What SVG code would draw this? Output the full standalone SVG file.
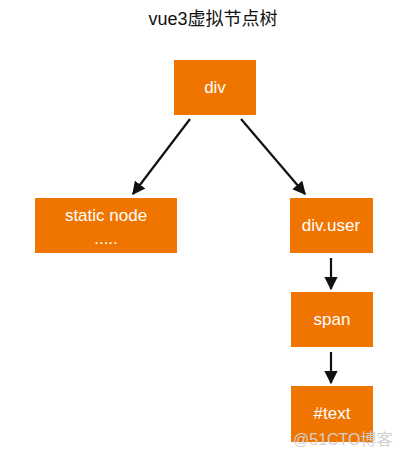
<svg xmlns="http://www.w3.org/2000/svg" width="402" height="463" viewBox="0 0 402 463">
<style>
.box{fill:#F07400;}
.lbl{font-family:"Liberation Sans",Arial,sans-serif;font-size:17px;fill:#ffffff;text-anchor:middle;}
.title{font-family:"Liberation Sans","Noto Sans CJK SC",sans-serif;font-size:18px;fill:#111;text-anchor:middle;}
.edge{stroke:#111;stroke-width:2.2;fill:none;marker-end:url(#ah);}
.wm{font-family:"Liberation Sans","Noto Sans CJK SC",sans-serif;font-size:16px;fill:#d0d0d0;}
</style>
<defs>
<marker id="ah" viewBox="0 0 10 10" refX="9" refY="5" markerWidth="6" markerHeight="6" orient="auto" markerUnits="strokeWidth">
<path d="M0,0 L10,5 L0,10 z" fill="#111"/>
</marker>
</defs>
<rect width="402" height="463" fill="#ffffff"/>
<text class="title" x="213" y="25">vue3虚拟节点树</text>
<g id="connectors">
<line class="edge" x1="190" y1="119" x2="133" y2="194"/>
<line class="edge" x1="241" y1="119" x2="305" y2="194"/>
<line class="edge" x1="331" y1="258" x2="331" y2="289"/>
<line class="edge" x1="331" y1="352" x2="331" y2="383"/>
</g>
<g id="node-div">
<rect class="box" x="174" y="60" width="82" height="55"/>
<text class="lbl" x="215" y="93">div</text>
</g>
<g id="node-static">
<rect class="box" x="35" y="198" width="142" height="55"/>
<text class="lbl" x="106" y="221">static node</text>
<text class="lbl" x="106" y="244">.....</text>
</g>
<g id="node-divuser">
<rect class="box" x="290" y="198" width="83" height="55"/>
<text class="lbl" x="331" y="231">div.user</text>
</g>
<g id="node-span">
<rect class="box" x="291" y="292" width="82" height="55"/>
<text class="lbl" x="332" y="325">span</text>
</g>
<g id="node-text">
<rect class="box" x="291" y="386" width="82" height="56"/>
<text class="lbl" x="332" y="419">#text</text>
</g>
<text class="wm" x="293" y="445">@51CTO博客</text>
</svg>
